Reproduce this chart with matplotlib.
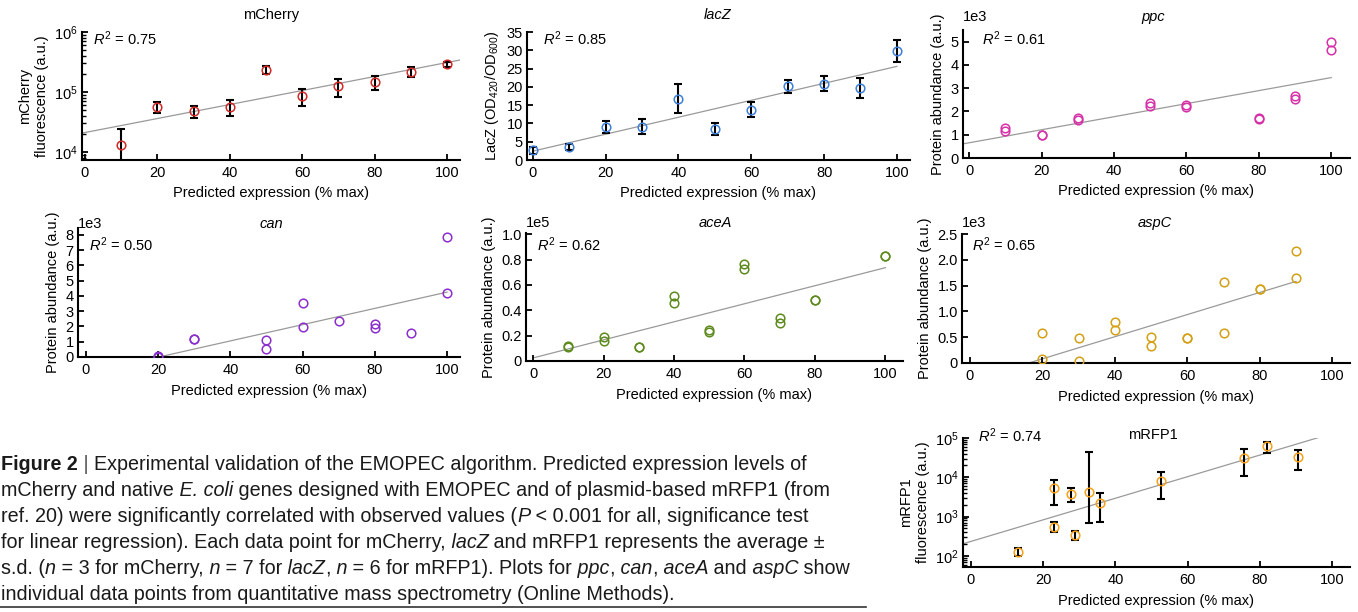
import numpy as np
import matplotlib
matplotlib.use("Agg")
import matplotlib.pyplot as plt
from matplotlib import font_manager
from matplotlib.lines import Line2D
from matplotlib.ticker import FuncFormatter, LogLocator, NullFormatter

plt.rcParams['font.family'] = ['Liberation Sans', 'DejaVu Sans']
plt.rcParams['mathtext.fontset'] = 'custom'
plt.rcParams['mathtext.rm'] = 'Liberation Sans'
plt.rcParams['mathtext.it'] = 'Liberation Sans:italic'
plt.rcParams['mathtext.bf'] = 'Liberation Sans:bold'

# ---- data ----
mcherry_x = [10, 20, 30, 40, 50, 60, 70, 80, 90, 100]
mcherry_y = [13100, 56200, 48200, 57000, 232600, 85800, 126000, 146800, 218000, 289000]
mcherry_sd = [11400, 12000, 11500, 16500, 35000, 26500, 42000, 37000, 43000, 26000]

lacz_x = [0, 10, 20, 30, 40, 50, 60, 70, 80, 90, 100]
lacz_y = [2.6, 3.6, 9.1, 9.1, 16.8, 8.5, 13.8, 20.2, 20.9, 19.7, 29.8]
lacz_sd = [0.9, 0.8, 1.6, 2.1, 4.0, 1.7, 2.0, 1.8, 2.0, 2.8, 3.0]

ppc_x = [10, 10, 20, 20, 30, 30, 50, 50, 60, 60, 80, 80, 90, 90, 100, 100]
ppc_y = [1290, 1170, 1000, 990, 1710, 1640, 2360, 2240, 2260, 2170, 1740, 1690, 2670, 2540, 5000, 4640]

can_x = [20, 20, 30, 30, 50, 50, 60, 60, 70, 80, 80, 90, 100, 100]
can_y = [50, 20, 1200, 1180, 1140, 500, 3550, 1970, 2370, 2190, 1890, 1560, 7830, 4210]

acea_x = [10, 10, 20, 20, 30, 30, 40, 40, 50, 50, 60, 60, 70, 70, 80, 80, 100, 100]
acea_y = [11000, 11500, 18900, 15400, 11200, 11200, 51300, 46000, 24500, 22600,
          76900, 72300, 34000, 29800, 48400, 48400, 82700, 82700]

aspc_x = [20, 20, 30, 30, 40, 40, 50, 50, 60, 60, 70, 70, 80, 80, 90, 90]
aspc_y = [583, 84, 492, 39, 803, 641, 512, 324, 492, 492, 1561, 589, 1438, 1438, 2163, 1652]

mrfp_x = [13.0, 22.9, 23.1, 27.7, 28.9, 32.6, 35.8, 52.7, 75.5, 82.0, 90.5]
mrfp_y = [129, 5260, 551, 3850, 337, 4160, 2270, 8260, 30800, 61200, 32700]
mrfp_lo = [30, 3290, 157, 1500, 86, 3476, 1546, 5460, 20100, 19000, 17200]
mrfp_hi = [30, 3170, 160, 1520, 82, 38840, 1650, 5500, 20500, 19400, 17600]

W, H = 1358, 612
fig = plt.figure(figsize=(W / 100, H / 100), dpi=100)


def px_rect(l, t, r, b):
    return [l / W, 1 - b / H, (r - l) / W, (b - t) / H]


panels = [
    dict(title='mCherry', it=False, x=mcherry_x, y=mcherry_y, err=mcherry_sd, c='#cf2a27',
         r2='0.75', log=True, rect=(82, 32, 460, 160), xlim=(-0.8, 103.6), ylim=(7.4e3, 1e6),
         ylabel='mCherry\nfluorescence (a.u.)', span=(-0.8, 103.6), r2pos=(0.029, 0.945),
         tpos=(271, 15)),
    dict(title='lacZ', it=True, x=lacz_x, y=lacz_y, err=lacz_sd, c='#3f7ed8',
         r2='0.85', log=False, rect=(527, 32, 910, 160), xlim=(-1.6, 103.6), ylim=(0, 35),
         ylabel='LacZ (OD$_{420}$/OD$_{600}$)', span=(0, 100), r2pos=(0.042, 0.945),
         tpos=(718, 15), yticks=np.arange(0, 36, 5), scale=1, dec=0),
    dict(title='ppc', it=True, x=ppc_x, y=ppc_y, err=None, c='#d631a8',
         r2='0.61', log=False, rect=(963, 30, 1350, 158), xlim=(-1.7, 105.2), ylim=(0, 5500),
         ylabel='Protein abundance (a.u.)', span=(-1.7, 100), r2pos=(0.049, 0.93),
         tpos=(1153, 17), yticks=np.arange(0, 5001, 1000), scale=1e3, dec=0, off='1e3'),
    dict(title='can', it=True, x=can_x, y=can_y, err=None, c='#8a2fcc',
         r2='0.50', log=False, rect=(78, 228, 460, 357), xlim=(-2.2, 103.6), ylim=(0, 8450),
         ylabel='Protein abundance (a.u.)', span=(0, 100), r2pos=(0.029, 0.868),
         tpos=(271, 224), yticks=np.arange(0, 8001, 1000), scale=1e3, dec=0, off='1e3'),
    dict(title='aceA', it=True, x=acea_x, y=acea_y, err=None, c='#5e8b1d',
         r2='0.62', log=False, rect=(526, 233, 903, 361), xlim=(-2.0, 105.0), ylim=(0, 1.01e5),
         ylabel='Protein abundance (a.u.)', span=(0, 100), r2pos=(0.029, 0.906),
         tpos=(715, 223), yticks=np.arange(0, 1.01e5, 2e4), scale=1e5, dec=1, off='1e5'),
    dict(title='aspC', it=True, x=aspc_x, y=aspc_y, err=None, c='#d3a016',
         r2='0.65', log=False, rect=(962, 234, 1350, 363), xlim=(-2.2, 104.9), ylim=(0, 2500),
         ylabel='Protein abundance (a.u.)', span=(0, 90), r2pos=(0.026, 0.915),
         tpos=(1155, 223), yticks=np.arange(0, 2501, 500), scale=1e3, dec=1, off='1e3'),
    dict(title='mRFP1', it=False, x=mrfp_x, y=mrfp_y, err=[mrfp_lo, mrfp_hi], c='#f4a11c',
         r2='0.74', log=True, rect=(963, 438, 1350, 567), xlim=(-2.2, 104.9), ylim=(52, 1e5),
         ylabel='mRFP1\nfluorescence (a.u.)', span=(-2.2, 104.9), r2pos=(0.039, 1.02),
         tpos=(1153, 435)),
]

for p in panels:
    ax = fig.add_axes(px_rect(*p['rect']))
    x = np.array(p['x'], float)
    y = np.array(p['y'], float)

    # regression line (log space for the log panels)
    xs = np.linspace(p['span'][0], p['span'][1], 200)
    if p['log']:
        k, b = np.polyfit(x, np.log10(y), 1)
        ax.plot(xs, 10 ** (k * xs + b), color='#9a9a9a', lw=0.9, zorder=1)
    else:
        k, b = np.polyfit(x, y, 1)
        ax.plot(xs, k * xs + b, color='#9a9a9a', lw=0.9, zorder=1)

    if p['err'] is not None:
        ax.errorbar(x, y, yerr=p['err'], fmt='none', ecolor='black', elinewidth=1.5,
                    capsize=3, capthick=1.5, zorder=2)
    ax.plot(x, y, 'o', mfc='none', mec=p['c'], ms=6.2, mew=1.1, zorder=3)

    if p['log']:
        ax.set_yscale('log')
        ax.yaxis.set_major_locator(LogLocator(base=10, numticks=10))
        ax.yaxis.set_minor_locator(LogLocator(base=10, subs=np.arange(2, 10), numticks=20))
        ax.yaxis.set_minor_formatter(NullFormatter())
    else:
        ax.set_yticks(p['yticks'])
        sc, d = p['scale'], p['dec']
        ax.yaxis.set_major_formatter(FuncFormatter(
            lambda v, pos, sc=sc, d=d: '0' if abs(v) < 1e-9 else f'{v / sc:.{d}f}'))
        if 'off' in p:
            l, t = p['rect'][0], p['tpos'][1]
            fig.text(l / W, 1 - t / H, p['off'], fontsize=10.5, ha='left', va='center')

    ax.set_xlim(*p['xlim'])
    ax.set_ylim(*p['ylim'])
    ax.set_xticks([0, 20, 40, 60, 80, 100])
    for s in ['top', 'right']:
        ax.spines[s].set_visible(False)
    for s in ['left', 'bottom']:
        ax.spines[s].set_linewidth(1.5)
    ax.tick_params(which='major', direction='in', length=4, width=1.3, labelsize=10.5, pad=4)
    ax.tick_params(which='minor', direction='in', length=3, width=1.0)
    ax.tick_params(axis='y', pad=3)
    ax.set_xlabel('Predicted expression (% max)', fontsize=10.5, labelpad=5)
    ax.set_ylabel(p['ylabel'], fontsize=10.5, labelpad=4)

    ax.text(p['r2pos'][0], p['r2pos'][1], '$R^2$ = ' + p['r2'], transform=ax.transAxes,
            fontsize=10.5, ha='left', va='center')
    fig.text(p['tpos'][0] / W, 1 - p['tpos'][1] / H, p['title'], fontsize=10.5,
             style='italic' if p['it'] else 'normal', ha='center', va='center')

# ---- caption ----
try:
    font_manager.findfont('Liberation Sans Narrow', fallback_to_default=False)
    cap_font = 'Liberation Sans Narrow'
except ValueError:
    cap_font = 'Liberation Sans'

cap_lines = [
    [('Figure 2', 'b'), (' | ', 'n'), ('Experimental validation of the EMOPEC algorithm. Predicted expression levels of', 'n')],
    [('mCherry and native', 'n'), (' E. coli', 'i'), (' genes designed with EMOPEC and of plasmid-based mRFP1 (from', 'n')],
    [('ref. 20) were significantly correlated with observed values (', 'n'), ('P', 'i'),
     (' < 0.001 for all, significance test', 'n')],
    [('for linear regression). Each data point for mCherry,', 'n'), (' lacZ', 'i'),
     (' and mRFP1 represents the average \u00b1', 'n')],
    [('s.d. (', 'n'), ('n', 'i'), (' = 3 for mCherry,', 'n'), (' n', 'i'), (' = 7 for', 'n'),
     (' lacZ', 'i'), (',', 'n'), (' n', 'i'), (' = 6 for mRFP1). Plots for', 'n'), (' ppc', 'i'),
     (',', 'n'), (' can', 'i'), (',', 'n'), (' aceA', 'i'), (' and', 'n'), (' aspC', 'i'), (' show', 'n')],
    [('individual data points from quantitative mass spectrometry (Online Methods).', 'n')],
]
cap_y = [464, 490, 516, 542, 568, 594]


def draw_caption(size):
    r = fig.canvas.get_renderer()
    texts, ends = [], []
    for k, segs in enumerate(cap_lines):
        xpx = 1.0
        for s, st in segs:
            t = fig.text(xpx / W, 1 - cap_y[k] / H, s, fontsize=size, family=[cap_font, 'DejaVu Sans'],
                         fontweight='bold' if st == 'b' else 'normal',
                         style='italic' if st == 'i' else 'normal',
                         color='#555555' if s == ' | ' else '#1a1a1a',
                         ha='left', va='center')
            xpx += t.get_window_extent(r).width
            texts.append(t)
        ends.append(xpx)
    return texts, ends


texts, ends = draw_caption(12)
new_size = 12 * 808 / ends[0]
for t in texts:
    t.remove()
draw_caption(new_size)

fig.add_artist(Line2D([0, 866 / W], [1 - 607 / H, 1 - 607 / H], transform=fig.transFigure,
                      color='#333333', lw=1.2))

fig.savefig('out.png', dpi=100)
